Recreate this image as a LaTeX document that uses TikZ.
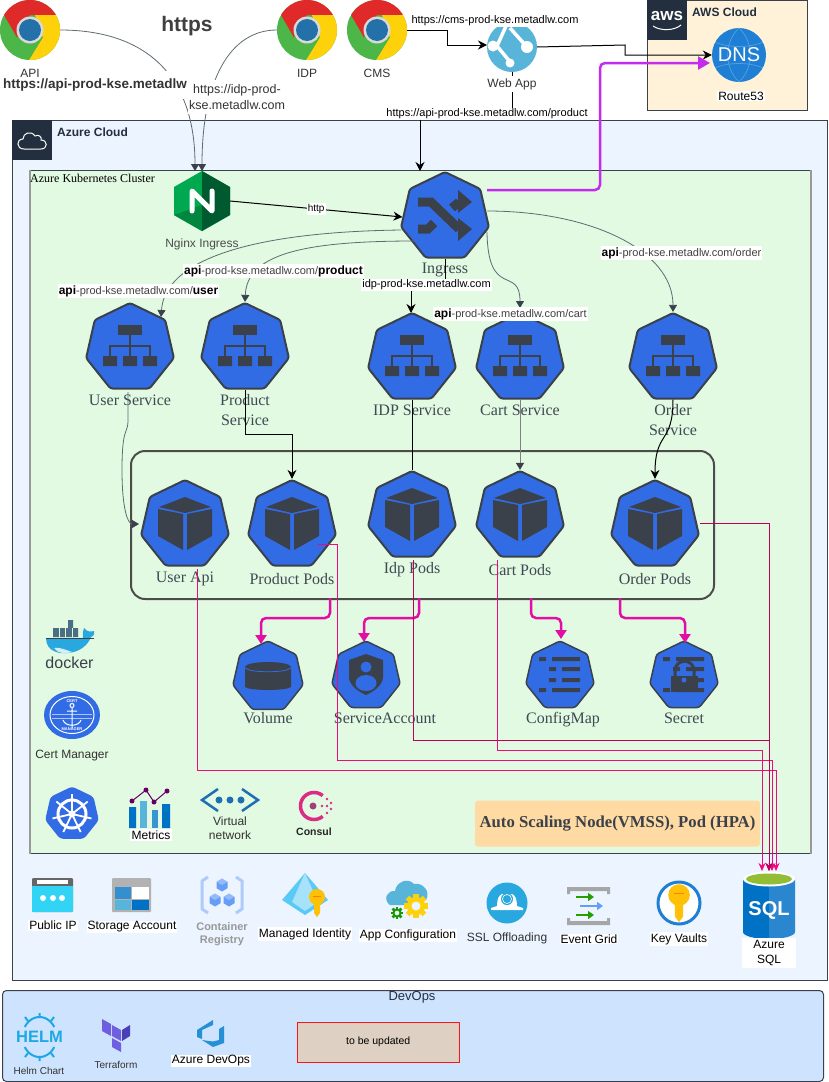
\documentclass[tikz,border=0pt]{standalone}
\usepackage{fontspec}
\setmainfont{Liberation Sans}
\newfontfamily\serifface{Liberation Serif}
\usetikzlibrary{shapes, arrows.meta, positioning, calc}
\definecolor{k8sblue}{HTML}{326CE5}
\definecolor{k8sdark}{HTML}{3A414B}
\definecolor{awsdark}{HTML}{232F3E}
\definecolor{azurebg}{HTML}{EBF4FF}
\definecolor{aksbg}{HTML}{E2F9E2}
\definecolor{awsbg}{HTML}{FFF2D9}
\definecolor{devopsbg}{HTML}{CEE3FD}
\definecolor{lblgrey}{HTML}{3F4952}
\definecolor{edgegrey}{HTML}{5F6B72}
\definecolor{magthick}{HTML}{E30EA5}
\definecolor{sqlpink}{HTML}{F0087F}
\definecolor{sqldark}{HTML}{C00058}
\definecolor{routepurple}{HTML}{C32BEF}
\definecolor{azblue}{HTML}{59B4D9}
\definecolor{azdeep}{HTML}{0072C6}
\definecolor{azmid}{HTML}{2A86CF}
\definecolor{chromered}{HTML}{E02A2A}
\definecolor{chromeyellow}{HTML}{FDD20A}
\definecolor{chromegreen}{HTML}{4CB648}
\definecolor{chromeblue}{HTML}{2470A8}
\definecolor{dnsblue}{HTML}{1F7FD4}
\definecolor{nginxlight}{HTML}{00A94F}
\definecolor{nginxmid}{HTML}{00863F}
\definecolor{nginxdark}{HTML}{005A2F}
\definecolor{keygold}{HTML}{FFC107}
\definecolor{sslblue}{HTML}{29A8E0}
\definecolor{ipcyan}{HTML}{32D4F5}
\definecolor{helmblue}{HTML}{1CA8E6}
\definecolor{tfpurple}{HTML}{6F5FE0}
\definecolor{tfdark}{HTML}{4B3FB5}
\definecolor{regblue}{HTML}{669DF6}
\definecolor{reglight}{HTML}{AECBFA}
\definecolor{vnetblue}{HTML}{1C6FB5}
\definecolor{consulpink}{HTML}{DC2A86}
\definecolor{scalebg}{HTML}{FFDBA3}
\tikzset{
  pics/chrome/.style={code={
    \fill[chromegreen] (0,0) circle[radius=30pt];
    \begin{scope}
      \clip (0,0) circle[radius=30pt];
      \fill[chromered] (-13,7.5) -- (-39,-37.5) -- (40,-37.5) -- (40,-15) -- (0,-15) -- cycle;
      \fill[chromeyellow] (5,-15) -- (40,-15) -- (40,40) -- (-7,40) -- (13,7.5) -- cycle;
    \end{scope}
    \fill[white!85!black] (0,0) circle[radius=13.5pt];
    \fill[chromeblue] (0,0) circle[radius=11pt];
  }},
  pics/svcicon/.style={code={
    \fill[k8sdark] (-12,-23) rectangle (12,-13);
    \fill[k8sdark] (-27,8) rectangle (-13,18) (-7,8) rectangle (7,18) (13,8) rectangle (27,18);
    \draw[k8sdark, line width=2] (0,-13) -- (0,8) (-20,8) -- (-20,-2) -- (20,-2) -- (20,8);
  }},
  pics/podicon/.style={code={
    \fill[k8sdark] (0,-28) -- (-26,-18) -- (0,-12) -- (26,-18) -- cycle;
    \fill[k8sdark] (-27,-16) -- (-2,-11) -- (-2,25) -- (-27,11) -- cycle;
    \fill[k8sdark] (27,-16) -- (2,-11) -- (2,25) -- (27,11) -- cycle;
  }},
  pics/listicon/.style={code={
    \fill[k8sdark] (-21,-19) rectangle (-14,-15) (-8,-19) rectangle (20,-15);
    \fill[k8sdark] (-11,-9) rectangle (-4,-5) (2,-9) rectangle (20,-5);
    \fill[k8sdark] (-11,2) rectangle (-4,6) (2,2) rectangle (20,6);
    \fill[k8sdark] (-21,12) rectangle (-14,16) (-8,12) rectangle (20,16);
  }},
  pics/key/.style={code={
    \fill[keygold] (0,0) circle[radius=8pt];
    \fill[keygold] (-3,0) -- (3,0) -- (3,16) -- (0,20) -- (-3,16) -- cycle;
    \draw[orange, line width=1] (-4,-1) -- (4,-1);
  }},
  pics/gear/.style={code={
    \foreach \a in {0,45,...,315} {
      \fill[#1, rotate=\a] (-2.6,-12) rectangle (2.6,-7);
    }
    \fill[#1] (0,0) circle[radius=9pt];
    \fill[azurebg] (0,0) circle[radius=4.5pt];
  }},
  pics/cubelet/.style={code={
    \fill[#1] (0,-6.5) -- (5.5,-3.2) -- (5.5,3.2) -- (0,6.5) -- (-5.5,3.2) -- (-5.5,-3.2) -- cycle;
    \fill[white, opacity=.3] (0,-6.5) -- (5.5,-3.2) -- (0,0) -- (-5.5,-3.2) -- cycle;
  }}
}
\begin{document}
\begin{tikzpicture}[x=1pt, y=-1pt,
    iconbox/.style={inner sep=0, outer sep=0},
    cloudbox/.style={draw=k8sdark, line width=1, anchor=north west, inner sep=0},
    hept/.style={regular polygon, regular polygon sides=7, draw=k8sdark, fill=k8sblue,
                 line width=2, rounded corners=2.5, minimum size=90, inner sep=0},
    heptsmall/.style={hept, line width=1.5, minimum size=70},
    lbl/.style={inner sep=1, align=center, text=black!80, font=\fontsize{12}{14}\selectfont},
    whitelbl/.style={lbl, fill=white, text=black},
    smalllbl/.style={lbl, font=\fontsize{10}{12}\selectfont},
    k8slbl/.style={inner sep=0, align=center, text=lblgrey, font=\serifface\fontsize{16}{20}\selectfont},
    urllbl/.style={whitelbl, inner sep=1, font=\fontsize{11}{12}\selectfont},
    pathlbl/.style={whitelbl, inner sep=1, text=black!75, font=\fontsize{11}{12}\selectfont},
    thinedge/.style={edgegrey, line width=.8, -{Triangle[length=7,width=8,color=k8sdark]}},
    blackedge/.style={black, line width=1, -{Stealth[length=9,width=9]}},
    magedge/.style={magthick, line width=2.5, rounded corners=5, -{Triangle[length=9,width=11]}},
    sqledge/.style={sqlpink, line width=1, -{Stealth[length=8,width=7]}}
  ]
  \useasboundingbox (0,0) rectangle (829,1082);

  % containers
  \node[cloudbox, fill=awsbg, minimum width=160, minimum height=110] (awsbox) at (647,0) {};
  \node[cloudbox, fill=azurebg, minimum width=815, minimum height=860] (azurebox) at (12,120) {};
  \node[cloudbox, fill=aksbg, minimum width=780, minimum height=683] (aksbox) at (30,170) {};
  \draw[gray!80, line width=1.6] (aksbox.north west) -- (aksbox.south west);
  \draw[gray!80, line width=1.6] (aksbox.north east) -- (aksbox.south east);
  \node[cloudbox, fill=devopsbg, rounded corners=4, minimum width=821, minimum height=91] (devopsbox) at (2,990) {};
  \node[draw=black!70, line width=2, rounded corners=14, minimum width=583, minimum height=148,
        anchor=north west, inner sep=0] (podgroup) at (130,450) {};

  \node[anchor=north west, fill=awsdark, minimum size=40, inner sep=0] (awslogo) at (647,0) {};
  \node[inner sep=0, text=white, font=\bfseries\fontsize{17}{17}\selectfont] (awstext) at (667,16) {aws};
  \draw[white, line width=1] (653,26) .. controls (660,31) and (674,31) .. (681,25);
  \node[anchor=north west, fill=awsdark, minimum size=40, inner sep=0] (azurelogo) at (12,120) {};
  \draw[white, line width=1] (24,149) .. controls (16,149) and (16,139) .. (23,139)
    .. controls (23,133) and (31,130) .. (35,136) .. controls (39,134) and (42,137) .. (41,140)
    .. controls (48,140) and (48,149) .. (41,149) -- cycle;
  \node[anchor=west, inner sep=0, text=awsdark, font=\bfseries\fontsize{12}{14}\selectfont] (awstitle) at (692,12) {AWS Cloud};
  \node[anchor=west, inner sep=0, text=awsdark, font=\bfseries\fontsize{12}{14}\selectfont] (azuretitle) at (57,132) {Azure Cloud};
  \node[anchor=west, inner sep=0, text=black, font=\serifface\fontsize{12}{14}\selectfont] (akstitle) at (30,178) {Azure Kubernetes Cluster};
  \node[inner sep=0, text=awsdark, font=\fontsize{13}{14}\selectfont] (devopstitle) at (412,997) {DevOps};

  % browsers
  \node[iconbox, minimum size=60] (apichrome) at (30,30) {};
  \pic at (apichrome) {chrome};
  \node[iconbox, minimum size=60] (idpchrome) at (307,30) {};
  \pic at (idpchrome) {chrome};
  \node[iconbox, minimum size=60] (cmschrome) at (377,30) {};
  \pic at (cmschrome) {chrome};
  \node[lbl] (idplbl) at (307,73) {IDP};
  \node[lbl] (cmslbl) at (377,73) {CMS};
  \node[inner sep=0, text=black!75, font=\bfseries\fontsize{21}{24}\selectfont] (httpslbl) at (187,26) {https};

  % web app
  \node[iconbox, minimum size=50] (webapp) at (512,47) {};
  \fill[azblue] (webapp.center) circle[radius=25pt];
  \draw[white, line width=3.5] (497,46) -- (507,24) (497,46) -- (511,63) (510,28) -- (527,47);
  \fill[white] (493,46) circle[radius=5.5pt] (527,47) circle[radius=6pt] (510,63) circle[radius=4.5pt];

  % route53
  \node[circle, fill=dnsblue, minimum size=54, inner sep=0, text=white,
        font=\fontsize{20}{20}\selectfont] (dns) at (739,55) {DNS};
  \draw[white, opacity=.25, line width=.7] (715,42) .. controls (728,48) and (750,48) .. (763,42)
    (715,68) .. controls (728,62) and (750,62) .. (763,68)
    (739,28) .. controls (724,42) and (724,68) .. (739,82) (739,28) .. controls (754,42) and (754,68) .. (739,82);
  \node[whitelbl] (dnslbl) at (741,96) {Route53};

  % ingress controllers
  \node[iconbox, minimum width=56, minimum height=60] (nginx) at (202,201) {};
  \fill[nginxlight] (202,171) -- (230,187) -- (230,215) -- (202,231) -- (174,215) -- (174,187) -- cycle;
  \fill[nginxmid] (202,205) -- (202,231) -- (174,215) -- cycle;
  \fill[nginxdark] (202,171) -- (230,187) -- (230,215) -- (202,231) -- cycle;
  \draw[white, line width=5, line cap=round, line join=round] (192,211) -- (192,191) -- (212,211) -- (212,191);
  \node[k8slbl, text=black!70, font=\fontsize{12}{14}\selectfont] (nginxlbl) at (202,244) {Nginx Ingress};
  \node[hept] (ingress) at (445,217) {};
  \draw[k8sdark, line width=9] (418,202) -- (431,202) -- (459,229);
  \draw[k8sdark, line width=9] (418,229) -- (428,229) -- (434,223) (452,208) -- (459,202);
  \fill[k8sdark] (458,190) -- (472,202) -- (458,213) -- cycle (458,218) -- (472,229) -- (458,241) -- cycle;
  \node[k8slbl] (ingresslbl) at (445,270) {Ingress};

  % services
  \node[hept] (usersvc) at (130,348) {};
  \pic at (usersvc) {svcicon};
  \node[k8slbl] (usersvclbl) at (130,400) {User Service};
  \node[hept] (productsvc) at (245,348) {};
  \pic at (productsvc) {svcicon};
  \node[k8slbl] (productsvclbl) at (245,410) {Product\\Service};
  \node[hept] (idpsvc) at (412,358) {};
  \pic at (idpsvc) {svcicon};
  \node[k8slbl] (idpsvclbl) at (412,410) {IDP Service};
  \node[hept] (cartsvc) at (520,358) {};
  \pic at (cartsvc) {svcicon};
  \node[k8slbl] (cartsvclbl) at (520,410) {Cart Service};
  \node[hept] (ordersvc) at (673,358) {};
  \pic at (ordersvc) {svcicon};
  \node[k8slbl] (ordersvclbl) at (673,420) {Order\\Service};

  % pods
  \node[hept] (userpods) at (185,525) {};
  \pic at (userpods) {podicon};
  \node[k8slbl] (userpodslbl) at (185,579) {User Api};
  \node[hept] (productpods) at (292,525) {};
  \pic at (productpods) {podicon};
  \node[k8slbl] (productpodslbl) at (292,579) {Product Pods};
  \node[hept] (idppods) at (412,516) {};
  \pic at (idppods) {podicon};
  \node[k8slbl] (idppodslbl) at (412,570) {Idp Pods};
  \node[hept] (cartpods) at (520,516) {};
  \pic at (cartpods) {podicon};
  \node[k8slbl] (cartpodslbl) at (520,570) {Cart Pods};
  \node[hept] (orderpods) at (655,525) {};
  \pic at (orderpods) {podicon};
  \node[k8slbl] (orderpodslbl) at (655,579) {Order Pods};

  % storage and config objects
  \node[heptsmall, minimum size=72] (volume) at (268,677) {};
  \fill[k8sdark] (245,667) -- (245,687) .. controls (250,691) and (286,691) .. (291,687) -- (291,667) -- cycle;
  \fill[k8sdark] (268,667) ellipse[x radius=23pt, y radius=5pt];
  \draw[k8sblue, line width=.8] (245,668) .. controls (250,673) and (286,673) .. (291,668);
  \node[k8slbl] (volumelbl) at (268,718) {Volume};
  \node[heptsmall] (serviceacct) at (366,676) {};
  \fill[k8sdark] (366,654) -- (383,660) -- (383,678) .. controls (382,686) and (373,692) .. (366,695)
    .. controls (359,692) and (350,686) .. (349,678) -- (349,660) -- cycle;
  \fill[k8sblue] (366,667) circle[radius=5.5pt] (366,683) ellipse[x radius=10.5pt, y radius=8pt];
  \node[k8slbl] (serviceacctlbl) at (385,718) {ServiceAccount};
  \node[heptsmall] (configmap) at (560,676) {};
  \pic at (configmap) {listicon};
  \node[k8slbl] (configmaplbl) at (563,719.5) {ConfigMap};
  \node[heptsmall] (secret) at (684,676) {};
  \pic at (secret) {listicon};
  \fill[k8sdark] (671,676) rectangle (698,692);
  \draw[k8sdark, line width=3] (675,676) -- (675,671) .. controls (675,658) and (694,658) .. (694,671) -- (694,676);
  \fill[k8sblue] (684,680) circle[radius=2.5pt];
  \node[k8slbl] (secretlbl) at (684,718) {Secret};

  % left column inside the cluster
  \node[iconbox, minimum width=50, minimum height=50] (docker) at (70,645) {};
  \fill[cyan!45!black] (53,628) rectangle (78,637) (68,620) rectangle (73,628);
  \draw[aksbg, line width=.4] (59,628) -- (59,637) (65,628) -- (65,637) (72,628) -- (72,637);
  \fill[sslblue] (46,638) .. controls (46,652) and (60,654) .. (68,653)
    .. controls (80,652) and (88,645) .. (91,637) .. controls (94,636) and (95,633) .. (94,631)
    .. controls (91,632) and (87,632) .. (84,628) .. controls (83,632) and (82,635) .. (83,638) -- cycle;
  \fill[white!80!sslblue] (54,648) .. controls (58,654) and (66,654) .. (72,652) .. controls (66,650) and (60,647) .. (54,648) -- cycle;
  \draw[k8sdark, line width=.6] (46,638) -- (94,638);
  \node[inner sep=0, text=k8sdark, font=\fontsize{16}{18}\selectfont] (dockerlbl) at (69.5,663) {docker};
  \node[iconbox, minimum width=56, minimum height=48] (certmgr) at (72,715) {};
  \fill[k8sblue] (certmgr.center) ellipse[x radius=28pt, y radius=24pt];
  \draw[white, line width=1] (certmgr.center) ellipse[x radius=22pt, y radius=18.5pt];
  \draw[white, line width=1] (72,708) -- (72,728) (67,711) -- (77,711) (63,720) .. controls (65,727) and (79,727) .. (81,720);
  \draw[white, line width=1] (72,705.5) circle[radius=2pt];
  \draw[white, opacity=.6, line width=.5] (52,714) -- (92,714) (52,718) -- (92,718);
  \node[inner sep=0, text=white, font=\bfseries\fontsize{4}{4}\selectfont] (certtext) at (72,701) {CERT};
  \node[inner sep=0, text=white, font=\bfseries\fontsize{4}{4}\selectfont] (mgrtext) at (72,729) {MANAGER};
  \node[lbl] (certlbl) at (72,755.5) {Cert Manager};
  \node[regular polygon, regular polygon sides=7, fill=k8sblue, minimum size=55, inner sep=0, rounded corners=3] (k8slogo) at (72,814) {};
  \draw[white, line width=3] (k8slogo.center) circle[radius=14pt];
  \foreach \a in {90,141.4,...,450} {
    \draw[white, line width=1.8] (k8slogo.center) -- ++({20*cos(\a)},{-20*sin(\a)});
  }
  \fill[white] (k8slogo.center) circle[radius=3.5pt];
  \node[iconbox, minimum width=41, minimum height=40] (metrics) at (150,808) {};
  \fill[azdeep] (129,807) rectangle (136,828) (162,804) rectangle (170,828);
  \fill[azblue] (140,801) rectangle (147,828);
  \fill[azmid!70!azblue] (152,810) rectangle (158,828);
  \draw[violet!80!black, line width=1] (132,801) -- (146,790) -- (154,802) -- (167,791);
  \fill[violet!80!black] (132,801) circle[radius=2.5pt] (146,790) circle[radius=2.5pt] (154,802) circle[radius=2.5pt] (167,791) circle[radius=2.5pt];
  \node[whitelbl, inner sep=2] (metricslbl) at (151,835) {Metrics};
  \node[iconbox, minimum width=60, minimum height=24] (vnet) at (230,800) {};
  \draw[vnetblue, line width=2.5] (218,789) -- (202,800) -- (218,811) (242,789) -- (258,800) -- (242,811);
  \fill[vnetblue] (219,800) circle[radius=3.5pt] (230,800) circle[radius=3.5pt] (241,800) circle[radius=3.5pt];
  \node[lbl] (vnetlbl) at (230,828) {Virtual\\network};
  \node[iconbox, minimum size=34] (consul) at (314,806) {};
  \draw[consulpink, line width=3.5] plot[domain=50:310, samples=40] ({314+13.5*cos(\x)},{806-13.5*sin(\x)});
  \fill[magenta!60!black] (313,806) circle[radius=3.5pt];
  \fill[consulpink] (322,806) circle[radius=1.3pt] (327,799) circle[radius=1.3pt] (331,803) circle[radius=1.3pt] (327,806) circle[radius=1.3pt] (331,809) circle[radius=1.3pt] (327,813) circle[radius=1.3pt];
  \node[inner sep=0, text=black!85, font=\bfseries\fontsize{10.5}{12}\selectfont] (consullbl) at (314,832) {Consul};
  \node[fill=scalebg, text=k8sdark, rounded corners=3, minimum width=285, minimum height=46,
        inner sep=0, font=\serifface\bfseries\fontsize{16.7}{18}\selectfont] (autoscale) at (617.5,823.5) {Auto Scaling Node(VMSS), Pod (HPA)};

  % azure resources along the bottom
  \node[iconbox, minimum width=41, minimum height=34] (publicip) at (52.5,895) {};
  \fill[gray!80!black, rounded corners=1] (32,878) rectangle (73,912);
  \fill[ipcyan] (32,886) rectangle (73,912);
  \fill[white] (37,880) rectangle (68,884);
  \fill[white] (43,898) circle[radius=3pt] (53,898) circle[radius=3pt] (62,898) circle[radius=3pt];
  \node[whitelbl] (publiciplbl) at (53,925.5) {Public IP};
  \node[iconbox, minimum width=39, minimum height=34] (storage) at (131.5,895) {};
  \fill[gray!60, rounded corners=1] (112,878) rectangle (151,912);
  \fill[azmid!80!azblue] (115,887) rectangle (131,899);
  \fill[white] (132,887) rectangle (149,899);
  \fill[azblue] (115,900) rectangle (131,910);
  \fill[azdeep] (132,900) rectangle (149,910);
  \node[whitelbl] (storagelbl) at (132,927) {Storage Account};
  \node[iconbox, minimum size=42] (registry) at (222,895) {};
  \draw[reglight, line width=3] (208,877) -- (202,881) -- (202,909) -- (208,913) (236,877) -- (242,881) -- (242,909) -- (236,913);
  \pic at (222,885) {cubelet=regblue};
  \pic at (215,900) {cubelet=regblue};
  \pic at (229,900) {cubelet=regblue};
  \node[lbl, text=gray!80, font=\bfseries\fontsize{11}{13}\selectfont] (registrylbl) at (222,934) {Container\\Registry};
  \node[iconbox, minimum width=46, minimum height=42] (identity) at (305,894) {};
  \fill[cyan!65!white] (305,873) -- (282,900) -- (305,915) -- (328,900) -- cycle;
  \fill[cyan!35!white] (305,873) -- (292,902) -- (305,911) -- (318,902) -- cycle;
  \pic at (317,897) {key};
  \node[whitelbl] (identitylbl) at (305,934) {Managed Identity};
  \node[iconbox, minimum size=42] (appconfig) at (408,897) {};
  \fill[azblue] (390,905) .. controls (382,899) and (388,890) .. (395,891) .. controls (396,882) and (408,877) .. (414,884)
    .. controls (423,882) and (431,892) .. (426,900) -- (415,905) -- cycle;
  \pic at (416,906) {gear=chromeyellow};
  \pic[scale=.52] at (397,913) {gear=green!55!black!90!yellow};
  \node[whitelbl] (appconfiglbl) at (408,935.5) {App Configuration};
  \node[circle, fill=sslblue, minimum size=41, inner sep=0] (ssl) at (507,903) {};
  \fill[white] (491,908) -- (497,906) .. controls (497,899) and (499,895) .. (502,894) -- (512,894)
    .. controls (515,895) and (517,899) .. (517,906) -- (523,908) -- (523,910) -- (491,910) -- cycle;
  \fill[sslblue] (507,899) circle[radius=6pt];
  \draw[white, line width=.6] (507,899) circle[radius=4.5pt];
  \node[lbl] (ssllbl) at (507,938) {SSL Offloading};
  \node[iconbox, minimum width=43, minimum height=38] (eventgrid) at (588.5,906) {};
  \fill[gray!70] (567,887) rectangle (610,891) (567,921) rectangle (610,925) (567,887) rectangle (570,894) (607,887) rectangle (610,894) (567,918) rectangle (570,925) (607,918) rectangle (610,925);
  \draw[green!55!black!85!yellow, line width=2.5, -{Triangle[length=6,width=8]}] (576,897) -- (594,897);
  \draw[green!55!black!85!yellow, line width=2.5, -{Triangle[length=6,width=8]}] (576,915) -- (594,915);
  \draw[regblue, line width=2.5, -{Triangle[length=6,width=8]}] (580,906) -- (603,906);
  \node[whitelbl] (eventgridlbl) at (589,939) {Event Grid};
  \node[circle, draw=dnsblue, fill=white, line width=3, minimum size=42, inner sep=0] (keyvault) at (679,903) {};
  \pic[scale=1.35] at (679,895) {key};
  \node[whitelbl] (keyvaultlbl) at (679,939) {Key Vaults};
  \node[iconbox, minimum width=52, minimum height=68] (azuresql) at (769,905) {};
  \fill[azdeep] (743,879) rectangle (769,932) (769,939) .. controls (755,939) and (743,936) .. (743,932) -- (769,932) -- cycle;
  \fill[azmid] (769,879) rectangle (795,932) (769,939) .. controls (783,939) and (795,936) .. (795,932) -- (769,932) -- cycle;
  \fill[white] (769,879) ellipse[x radius=26pt, y radius=7.5pt];
  \fill[yellow!60!green!85!black] (769,879) ellipse[x radius=23pt, y radius=5.5pt];
  \node[inner sep=0, text=white, font=\bfseries\fontsize{20}{22}\selectfont] (sqltext) at (769,910) {SQL};
  \node[whitelbl, inner sep=0, minimum width=54, minimum height=30, font=\fontsize{12}{15.5}\selectfont] (azuresqllbl) at (769,953) {Azure\\SQL};

  % devops row
  \node[inner sep=0, text=helmblue, font=\bfseries\fontsize{16.5}{17}\selectfont] (helm) at (39.5,1037) {HELM};
  \draw[helmblue, line width=2] plot[domain=30:150, samples=20] ({39.5+17*cos(\x)},{1037-20*sin(\x)});
  \draw[helmblue, line width=2] plot[domain=210:330, samples=20] ({39.5+17*cos(\x)},{1037-20*sin(\x)});
  \draw[helmblue, line width=2] (39.5,1017) -- (39.5,1013) (39.5,1057) -- (39.5,1061)
    (28,1021) -- (25,1017) (51,1021) -- (54,1017) (28,1053) -- (25,1057) (51,1053) -- (54,1057);
  \node[smalllbl] (helmlbl) at (39,1071) {Helm Chart};
  \node[iconbox, minimum width=28, minimum height=33] (terraform) at (116,1035) {};
  \fill[tfpurple] (102,1019) -- (111,1024) -- (111,1036) -- (102,1031) -- cycle
    (112,1025) -- (121,1030) -- (121,1041) -- (112,1036) -- cycle
    (112,1038) -- (121,1043) -- (121,1052) -- (112,1047) -- cycle;
  \fill[tfdark] (122,1030) -- (130,1025) -- (130,1036) -- (122,1041) -- cycle;
  \node[smalllbl] (terraformlbl) at (116,1065) {Terraform};
  \node[iconbox, minimum size=28] (azdevops) at (211,1033) {};
  \fill[azmid!70!helmblue] (224,1026) -- (224,1043) -- (213,1047) -- (202,1040) -- (213,1041.5) -- (219,1040) -- (219,1029) -- cycle;
  \fill[azmid!70!helmblue] (197,1030) -- (213,1020) -- (213,1025) -- (202,1030) -- (202,1039) -- (197,1037) -- cycle;
  \node[whitelbl] (azdevopslbl) at (211,1061) {Azure DevOps};
  \node[draw=red!90!pink, fill=brown!25!white!85!gray, minimum width=162, minimum height=40, inner sep=0, anchor=north west,
        text=black, font=\fontsize{10.5}{11}\selectfont] (updatebox) at (297,1022) {to be updated};

  % free ends of connectors
  \coordinate (nginxina) at (195,171);
  \coordinate (nginxinb) at (202,171);
  \coordinate (ingressin) at (420,171);
  \coordinate (purpleout) at (487,190);
  \coordinate (purplein) at (710,63);
  \coordinate (ingressleft) at (401,230);
  \coordinate (ingressmid) at (415,241);
  \coordinate (ingressright) at (487,211);
  \coordinate (ingressrightb) at (487,232);
  \coordinate (userin) at (161,317);
  \coordinate (idpin) at (411,313);
  \coordinate (cartin) at (520,308);
  \coordinate (usersvcout) at (128,392);
  \coordinate (userapiin) at (139,524);
  \coordinate (volumeout) at (330,598);
  \coordinate (volumein) at (261,644);
  \coordinate (acctout) at (419,598);
  \coordinate (acctin) at (364,642);
  \coordinate (cmapout) at (531,598);
  \coordinate (cmapin) at (561,639);
  \coordinate (secretout) at (620,598);
  \coordinate (secretin) at (685,643);
  \coordinate (useroutsql) at (197,569);
  \coordinate (productoutsql) at (318,544);
  \coordinate (idpoutsql) at (413,560);
  \coordinate (cartoutsql) at (497,560);
  \coordinate (orderoutsql) at (700,523);
  \coordinate (sqlina) at (762,871);
  \coordinate (sqlinb) at (769,871);
  \coordinate (sqlinc) at (772,871);
  \coordinate (sqlind) at (776,871);

  % connectors
  \draw[thinedge] (apichrome.east) .. controls (140,30) and (195,70) .. (nginxina);
  \draw[thinedge] (idpchrome.west) .. controls (230,30) and (202,80) .. (nginxinb);
  \draw[blackedge] (cmschrome.east) -- (447,30) -- (447,45) -- (487,45);
  \draw[blackedge] (webapp.east) -- (625,45) -- (625,55) -- (dns.west);
  \draw[blackedge] (webapp.south) -- (512,114) -- (420,114) -- (ingressin);
  \draw[routepurple, line width=2.5, rounded corners=5, -{Triangle[length=12,width=13]}] (purpleout) -- (600,190) -- (600,63) -- (purplein);
  \draw[blackedge] (nginx.east) -- node[whitelbl, inner sep=1, font=\fontsize{10}{12}\selectfont] (httplbl) {http} (ingress.west);
  \draw[thinedge] (ingressleft) .. controls (250,232) and (165,260) .. (userin);
  \draw[thinedge] (ingressmid) .. controls (300,241) and (247,255) .. (productsvc.north);
  \draw[blackedge] (ingress.south) -- (445,285) -- (411,285) -- (idpin);
  \draw[thinedge] (ingressrightb) .. controls (488,300) and (520,265) .. (cartin);
  \draw[thinedge] (ingressright) .. controls (590,211) and (673,250) .. (ordersvc.north);
  \draw[thinedge] (usersvcout) -- (128,420) .. controls (128,435) and (122,425) .. (122,470) .. controls (122,510) and (128,524) .. (userapiin);
  \draw[blackedge] (productsvc.south) -- (245,434) -- (292,434) -- (productpods.north);
  \draw[black, line width=1] (idpsvc.south) -- (idppods.north);
  \draw[thinedge, gray, line width=1] (cartsvc.south) -- (cartpods.north);
  \draw[blackedge] (ordersvc.south) .. controls (673,445) and (655,430) .. (orderpods.north);
  \draw[magedge] (volumeout) -- (330,618) -- (261,618) -- (volumein);
  \draw[magedge] (acctout) -- (419,618) -- (364,618) -- (acctin);
  \draw[magedge] (cmapout) -- (531,618) -- (561,618) -- (cmapin);
  \draw[magedge] (secretout) -- (620,618) -- (685,618) -- (secretin);
  \draw[sqledge] (useroutsql) -- (197,770) -- (776,770) -- (sqlind);
  \draw[sqledge] (productoutsql) -- (337,544) -- (337,760) -- (772,760) -- (sqlinc);
  \draw[sqledge] (cartoutsql) -- (497,750) -- (762,750) -- (sqlina);
  \draw[sqledge, draw=sqldark, -{Stealth[length=8,width=7,color=sqldark]}] (idpoutsql) -- (413,740) -- (769,740) -- (sqlinb);
  \draw[sqledge, draw=sqldark, -{Stealth[length=8,width=7,color=sqldark]}] (orderoutsql) -- (769,523) -- (sqlinb);

  % labels sitting over the connectors
  \node[whitelbl, inner sep=0, minimum height=28, text=black!80, font=\bfseries\fontsize{13.5}{15}\selectfont, anchor=west] (apiurl) at (3,85) {https://api-prod-kse.metadlw};
  \node[lbl] (apilbl) at (30,73) {API};
  \node[whitelbl, inner sep=1, minimum height=34, text=black!80, font=\fontsize{12.5}{15.5}\selectfont] (idpurl) at (237,97) {https://idp-prod-\\kse.metadlw.com};
  \node[urllbl] (cmsurl) at (495,21) {https://cms-prod-kse.metadlw.com};
  \node[lbl, fill=white, inner sep=2] (webapplbl) at (512,84) {Web App};
  \node[urllbl] (producturl) at (487,114) {https://api-prod-kse.metadlw.com/product};
  \node[pathlbl] (usersvcurl) at (138.5,291) {{\fontsize{12}{12}\selectfont\bfseries\color{black}api}-prod-kse.metadlw.com/{\fontsize{12}{12}\selectfont\bfseries\color{black}user}};
  \node[pathlbl] (productsvcurl) at (273.5,271) {{\fontsize{12}{12}\selectfont\bfseries\color{black}api}-prod-kse.metadlw.com/{\fontsize{12}{12}\selectfont\bfseries\color{black}product}};
  \node[urllbl] (idpsvcurl) at (426.5,285) {idp-prod-kse.metadlw.com};
  \node[pathlbl] (cartsvcurl) at (510.5,314) {{\fontsize{12}{12}\selectfont\bfseries\color{black}api}-prod-kse.metadlw.com/cart};
  \node[pathlbl] (ordersvcurl) at (681.5,253) {{\fontsize{12}{12}\selectfont\bfseries\color{black}api}-prod-kse.metadlw.com/order};
\end{tikzpicture}
\end{document}
